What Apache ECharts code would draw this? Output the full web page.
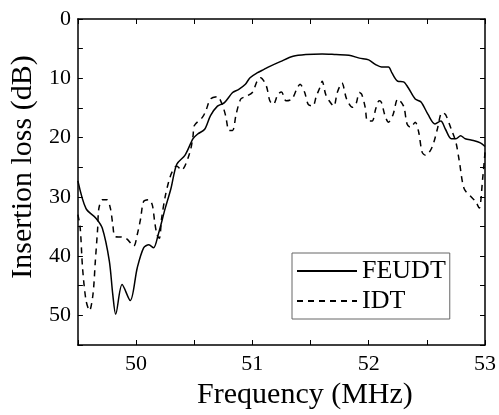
<!DOCTYPE html>
<html>
<head>
<meta charset="utf-8">
<script src="https://cdn.jsdelivr.net/npm/echarts@6/dist/echarts.min.js"></script>
<style>
  html, body { margin: 0; padding: 0; background: #fff; }
  #box { width: 499px; height: 415px; }
</style>
</head>
<body>
<div id="box"></div>
<script>
// FEUDT (solid)
const feudtFreq = [49.50, 49.57, 49.655, 49.71, 49.77, 49.80, 49.825, 49.88, 49.95, 50.01, 50.065, 50.11, 50.15, 50.19,
  50.25, 50.30, 50.35, 50.42, 50.49, 50.53, 50.59, 50.64, 50.70, 50.76, 50.83, 50.88, 50.94, 50.98, 51.04, 51.10,
  51.15, 51.24, 51.35, 51.46, 51.60, 51.72, 51.83, 51.92, 52.00, 52.06, 52.11, 52.17, 52.20, 52.25, 52.30, 52.34,
  52.40, 52.45, 52.51, 52.57, 52.62, 52.66, 52.71, 52.75, 52.79, 52.83, 52.90, 52.96, 53.00];
const feudtLoss = [27.3, 32.0, 33.6, 35.3, 40.8, 46.5, 49.8, 44.8, 47.5, 42.0, 38.6, 38.1, 38.6, 36.4,
  32.0, 28.6, 24.5, 23.0, 20.2, 19.4, 18.6, 16.3, 14.7, 14.1, 12.4, 11.9, 11.0, 9.9, 9.1, 8.5,
  8.0, 7.2, 6.3, 6.0, 5.9, 6.0, 6.1, 6.6, 6.9, 7.7, 8.1, 8.1, 9.1, 10.5, 10.6, 11.6,
  13.5, 14.0, 16.1, 17.7, 17.2, 18.6, 20.2, 20.2, 19.7, 20.2, 20.5, 20.9, 21.5];

// IDT (dashed)
const idtFreq = [49.50, 49.52, 49.54, 49.57, 49.60, 49.63, 49.65, 49.67, 49.68, 49.71, 49.75, 49.78, 49.80, 49.82,
  49.88, 49.92, 49.98, 50.01, 50.04, 50.065, 50.11, 50.14, 50.16, 50.18, 50.20, 50.22, 50.25, 50.28, 50.31, 50.35,
  50.39, 50.46, 50.49, 50.50, 50.57, 50.60, 50.64, 50.70, 50.74, 50.77, 50.80, 50.83, 50.86, 50.90, 50.94, 51.00,
  51.04, 51.07, 51.12, 51.15, 51.18, 51.22, 51.25, 51.29, 51.34, 51.38, 51.41, 51.45, 51.48, 51.52, 51.55, 51.58,
  51.60, 51.63, 51.66, 51.70, 51.73, 51.77, 51.81, 51.86, 51.89, 51.92, 51.94, 51.97, 51.99, 52.03, 52.06, 52.09,
  52.11, 52.14, 52.17, 52.21, 52.25, 52.30, 52.33, 52.36, 52.40, 52.43, 52.46, 52.49, 52.53, 52.56, 52.59, 52.63,
  52.66, 52.71, 52.75, 52.78, 52.82, 52.88, 52.92, 52.95, 52.98, 53.00];
const idtLoss = [33.0, 35.3, 42.0, 47.5, 49.2, 46.4, 40.8, 35.3, 32.0, 30.5, 30.5, 32.0, 34.7, 36.7,
  36.8, 37.1, 38.3, 36.4, 33.6, 30.8, 30.5, 31.4, 34.2, 36.4, 37.0, 33.6, 30.0, 27.5, 25.8, 24.8,
  25.5, 22.7, 19.7, 18.0, 16.6, 15.5, 13.5, 13.1, 14.4, 16.3, 18.8, 18.8, 16.1, 13.5, 13.1, 12.4,
  10.5, 9.9, 11.3, 13.8, 14.4, 12.7, 12.3, 13.8, 13.5, 11.9, 11.0, 12.4, 14.4, 14.7, 13.0, 11.6,
  10.5, 12.7, 13.8, 14.7, 12.4, 10.8, 13.5, 14.9, 14.4, 12.4, 12.7, 14.9, 17.2, 17.2, 15.2, 13.8,
  14.1, 16.3, 17.4, 16.1, 13.5, 14.7, 17.7, 18.3, 17.4, 19.1, 22.5, 23.0, 22.2, 20.8, 18.6, 15.8,
  16.1, 18.6, 20.8, 24.1, 28.6, 30.0, 30.8, 31.9, 26.9, 22.5];

const xTicks = [50, 51, 52, 53];
const yTicks = [0, 10, 20, 30, 40, 50];

const font = 'Liberation Serif';
const pair = (xs, ys) => xs.map((x, i) => [x, ys[i]]);

const myChart = echarts.init(document.getElementById('box'));

const axisCommon = {
  axisLine: { show: true, onZero: false, lineStyle: { color: '#000', width: 1.5 } },
  axisTick: { show: true, inside: true, length: 5, lineStyle: { color: '#000', width: 1 } },
  splitLine: { show: false }
};

const option = {
  animation: false,
  grid: { left: 75, right: 11, top: 19, bottom: 68 },
  legend: {
    left: 292,
    top: 253,
    orient: 'vertical',
    itemWidth: 60,
    itemHeight: 14,
    itemGap: 4,
    padding: [5, 4, 5, 4],
    borderColor: '#666',
    borderWidth: 1,
    // hide the marker dot, keep the line sample
    itemStyle: { opacity: 0 },
    textStyle: { fontFamily: font, fontSize: 26, color: '#000' },
    data: ['FEUDT', 'IDT']
  },
  xAxis: [
    Object.assign({
      type: 'value', min: 49.5, max: 53, interval: 0.5,
      name: 'Frequency (MHz)', nameLocation: 'middle', nameGap: 35,
      nameTextStyle: { fontFamily: font, fontSize: 30, color: '#000', padding: [0, 0, 0, 47] },
      axisLabel: {
        fontFamily: font, fontSize: 22, color: '#000', margin: 8,
        formatter: v => xTicks.includes(v) ? String(v) : ''
      }
    }, axisCommon),
    Object.assign({
      type: 'value', position: 'top', min: 49.5, max: 53, interval: 0.5,
      axisLabel: { show: false }
    }, axisCommon)
  ],
  yAxis: [
    Object.assign({
      type: 'value', inverse: true, min: 0, max: 55, interval: 5,
      name: 'Insertion loss (dB)', nameLocation: 'middle', nameGap: 37,
      nameTextStyle: { fontFamily: font, fontSize: 30, color: '#000', padding: [0, 0, 0, 30] },
      axisLabel: {
        fontFamily: font, fontSize: 22, color: '#000', margin: 7,
        formatter: v => yTicks.includes(v) ? String(v) : ''
      }
    }, axisCommon),
    Object.assign({
      type: 'value', position: 'right', inverse: true, min: 0, max: 55, interval: 5,
      axisLabel: { show: false }
    }, axisCommon)
  ],
  series: [
    {
      name: 'FEUDT',
      type: 'line',
      data: pair(feudtFreq, feudtLoss),
      showSymbol: false,
      symbol: 'none',
      smooth: 0.3,
      lineStyle: { color: '#000', width: 1.5 },
      itemStyle: { color: '#000' }
    },
    {
      name: 'IDT',
      type: 'line',
      data: pair(idtFreq, idtLoss),
      showSymbol: false,
      symbol: 'none',
      smooth: 0.3,
      lineStyle: { color: '#000', width: 1.5, type: [6, 5] },
      itemStyle: { color: '#000' }
    }
  ]
};
myChart.setOption(option);
</script>
</body>
</html>
